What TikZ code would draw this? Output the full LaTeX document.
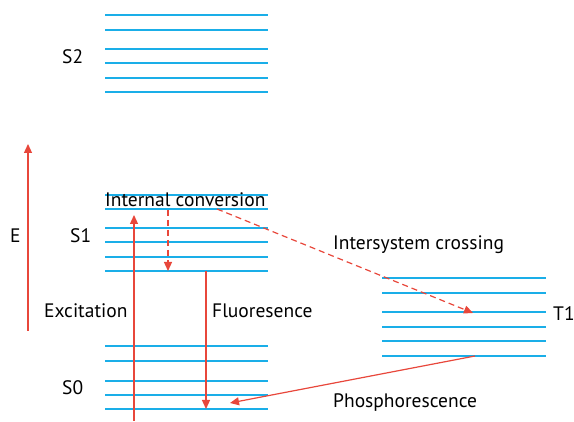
\documentclass[tikz,border=0pt]{standalone}
\usepackage{fontspec}
\setmainfont{PT Sans}
\usetikzlibrary{arrows.meta}
\definecolor{levelblue}{HTML}{1AAEE8}
\definecolor{arrowred}{HTML}{E8473B}
\begin{document}
\begin{tikzpicture}[x=1pt,y=-1pt,
	level_line/.style={levelblue,line width=1.4pt},
	trans_arrow/.style={arrowred,line width=1.2pt,-{Triangle[length=9pt,width=8pt]}},
	dash_arrow/.style={trans_arrow,dash pattern=on 6pt off 4pt},
	text_node/.style={font=\fontsize{19.5}{23}\selectfont,inner sep=0pt,anchor=base west}]
\useasboundingbox (0,0) rectangle (574,422);

		% energy levels
		\foreach \y in {15,30,49,63,78,92} \draw[level_line] (105,\y) -- (268,\y);
		\foreach \y in {195,209,228,242,257,271} \draw[level_line] (105,\y) -- (268,\y);
		\foreach \y in {346,361,381,395,409} \draw[level_line] (105,\y) -- (268,\y);
		\foreach \y in {278,293,312,327,341,356} \draw[level_line] (382,\y) -- (546,\y);

		\node[text_node] (s2) at (62,64) {S2};
		\node[text_node] (s1) at (70,243) {S1};
		\node[text_node] (s0) at (62,395) {S0};
		\node[text_node] (t1) at (553,321) {T1};
		\node[text_node] (e) at (10,243) {E};
		\node[text_node] (ic) at (105,207) {Internal conversion};
		\node[text_node] (isc) at (333,250) {Intersystem crossing};
		\node[text_node] (exc) at (44,318) {Excitation};
		\node[text_node] (fl) at (212,318) {Fluoresence};
		\node[text_node] (ph) at (333,408) {Phosphorescence};

		\coordinate (e_lo) at (28,331);
		\coordinate (e_hi) at (28,144);
		\coordinate (exc_lo) at (134,421);
		\coordinate (exc_hi) at (134,215);
		\coordinate (ic_hi) at (168,210);
		\coordinate (ic_lo) at (168,271);
		\coordinate (fl_hi) at (206,271);
		\coordinate (fl_lo) at (206,409);
		\coordinate (isc_a) at (217,209);
		\coordinate (isc_b) at (473,313);
		\coordinate (ph_a) at (475,356);
		\coordinate (ph_b) at (230,403);

		\draw[trans_arrow] (e_lo) -- (e_hi);
		\draw[trans_arrow] (exc_lo) -- (exc_hi);
		\draw[dash_arrow] (ic_hi) -- (ic_lo);
		\draw[trans_arrow] (fl_hi) -- (fl_lo);
		\draw[dash_arrow] (isc_a) -- (isc_b);
		\draw[trans_arrow] (ph_a) -- (ph_b);
\end{tikzpicture}
\end{document}
